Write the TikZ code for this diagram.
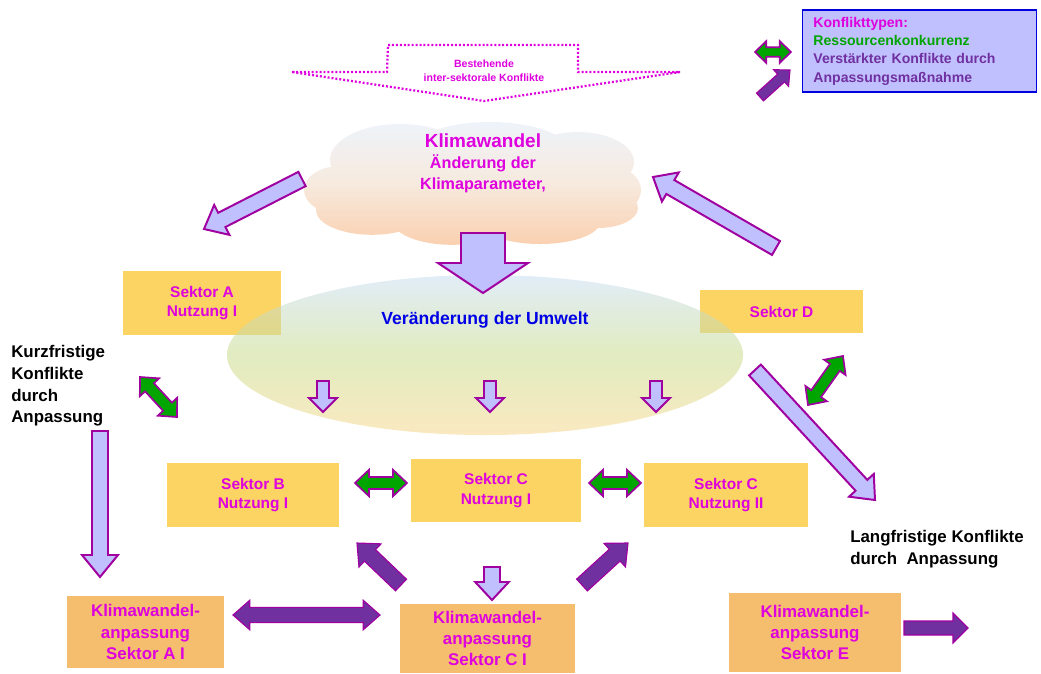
\documentclass[tikz,border=0pt]{standalone}
\usepackage{fontspec}
\setmainfont{Liberation Sans}
\usepackage{tikz}
\usetikzlibrary{positioning, calc, shapes.geometric}
\definecolor{lav}{RGB}{192,192,255}
\definecolor{rand}{RGB}{160,0,160}
\definecolor{gruen}{RGB}{0,165,0}
\definecolor{lila}{RGB}{112,48,160}
\definecolor{mag}{RGB}{222,0,222}
\definecolor{gelb}{RGB}{252,212,100}
\definecolor{orangebox}{RGB}{245,190,110}
\definecolor{legblau}{RGB}{0,0,220}
\definecolor{umweltblau}{RGB}{0,0,230}
\definecolor{wolkeo}{RGB}{238,243,250}
\definecolor{wolkem}{RGB}{247,234,222}
\definecolor{wolkeu}{RGB}{250,208,176}
\definecolor{ellio}{RGB}{200,222,242}
\definecolor{ellim}{RGB}{200,220,140}
\definecolor{elliu}{RGB}{246,214,140}

% block arrow: style, tail, tip, half shaft, half head, head length
\newcommand{\fatarrow}[6][]{%
  \coordinate (fa-h) at ($(#3)!#6!(#2)$);
  \draw[#1] ($(#2)!#4!90:(#3)$) -- ($(fa-h)!#4!-90:(#2)$) -- ($(fa-h)!#5!-90:(#2)$)
    -- (#3) -- ($(fa-h)!#5!90:(#2)$) -- ($(fa-h)!#4!90:(#2)$) -- ($(#2)!#4!-90:(#3)$) -- cycle;
}
% double block arrow
\newcommand{\fatdarrow}[6][]{%
  \coordinate (fa-a) at ($(#2)!#6!(#3)$);
  \coordinate (fa-b) at ($(#3)!#6!(#2)$);
  \draw[#1] (#2) -- ($(fa-a)!#5!90:(#3)$) -- ($(fa-a)!#4!90:(#3)$) -- ($(fa-b)!#4!-90:(#2)$)
    -- ($(fa-b)!#5!-90:(#2)$) -- (#3) -- ($(fa-b)!#5!90:(#2)$) -- ($(fa-b)!#4!90:(#2)$)
    -- ($(fa-a)!#4!-90:(#3)$) -- ($(fa-a)!#5!-90:(#3)$) -- cycle;
}

\begin{document}
\begin{tikzpicture}[x=0.025cm, y=-0.025cm, font=\bfseries,
    sektor/.style={fill=gelb, text=mag, align=center, inner sep=0pt,
                   font=\fontsize{11}{14}\selectfont\bfseries},
    anpassung/.style={fill=orangebox, text=mag, align=center, inner sep=0pt,
                   font=\fontsize{12}{15}\selectfont\bfseries},
    lavpfeil/.style={fill=lav, draw=rand, line width=1.4pt},
    gruenpfeil/.style={fill=gruen, draw=rand, line width=1.2pt},
    lilapfeil/.style={fill=lila, draw=rand, line width=0.8pt},
    hinweis/.style={align=left, inner sep=0pt, font=\fontsize{12}{15.5}\selectfont\bfseries}]
  \useasboundingbox (0,0) rectangle (1041,673);

  % Klimawandel (Wolke)
  \shade[top color=wolkeo, bottom color=wolkeu, middle color=wolkem]
    (400,160) ellipse [x radius=1.75cm, y radius=0.9cm]
    (490,152) ellipse [x radius=2cm, y radius=0.75cm]
    (578,162) ellipse [x radius=1.4cm, y radius=0.75cm]
    (340,190) ellipse [x radius=0.9cm, y radius=0.6cm]
    (615,190) ellipse [x radius=0.65cm, y radius=0.55cm]
    (372,210) ellipse [x radius=1.4cm, y radius=0.62cm]
    (452,220) ellipse [x radius=1.5cm, y radius=0.62cm]
    (540,222) ellipse [x radius=1.5cm, y radius=0.55cm]
    (598,208) ellipse [x radius=1cm, y radius=0.5cm]
    (475,190) ellipse [x radius=3.8cm, y radius=1.1cm];
  \node[text=mag, align=center, font=\fontsize{11.5}{15}\selectfont\bfseries] (klima) at (483,163)
        {{\fontsize{13.5}{17}\selectfont Klimawandel}\\Änderung der\\Klimaparameter,};

  % bestehende Konflikte
  \draw[dash pattern=on 1.4pt off 1.4pt, line width=1.6pt, mag] (292,72) -- (387,72) -- (388,45)
        -- (578,45) -- (578,72) -- (680,72) -- (484,101) -- cycle;
  \node[text=mag, align=center, font=\fontsize{7.5}{10}\selectfont\bfseries] (bestehend) at (484,71)
        {Bestehende\\inter-sektorale Konflikte};

  % Legende
  \node[draw=legblau, fill=lav, line width=1pt, text width=5.3cm, align=left,
        inner xsep=0.28cm, minimum height=2.05cm, font=\fontsize{10}{13}\selectfont\bfseries]
        (legende) at (919.5,51)
        {\textcolor{mag}{Konflikttypen:}\\\textcolor{gruen}{Ressourcenkonkurrenz}\\
         \textcolor{lila}{Verstärkter Konflikte durch}\\\textcolor{lila}{Anpassungsmaßnahme}};

  % Sektoren
  \node[sektor, minimum width=3.95cm, minimum height=1.6cm] (sa) at (202,303) {Sektor A\\Nutzung I};
  \node[sektor, minimum width=4.075cm, minimum height=1.075cm] (sd) at (781.5,311.5) {Sektor D};
  \node[sektor, minimum width=4.3cm, minimum height=1.6cm] (sb) at (253,495) {Sektor B\\Nutzung I};
  \node[sektor, minimum width=4.25cm, minimum height=1.575cm] (sc1) at (496,490.5) {Sektor C\\Nutzung I};
  \node[sektor, minimum width=4.1cm, minimum height=1.6cm] (sc2) at (726,495) {Sektor C\\Nutzung II};

  % Anpassung
  \node[anpassung, minimum width=3.925cm, minimum height=1.8cm] (ka) at (145.5,632)
        {Klimawandel-\\anpassung\\Sektor A I};
  \node[anpassung, minimum width=4.375cm, minimum height=1.725cm] (kc) at (487.5,638.5)
        {Klimawandel-\\anpassung\\Sektor C I};
  \node[anpassung, minimum width=4.3cm, minimum height=1.975cm] (ke) at (815,632.5)
        {Klimawandel-\\anpassung\\Sektor E};

  % Umwelt
  \node[ellipse, minimum width=12.9cm, minimum height=4cm, fill opacity=0.55,
        top color=ellio, bottom color=elliu, middle color=ellim] (umwelt) at (485,355) {};
  \node[text=umweltblau, font=\fontsize{12.5}{15}\selectfont\bfseries] (umwelttext) at (485,320)
        {Veränderung der Umwelt};

  % Texte
  \node[hinweis, anchor=north west] (kurz) at (11,345) {Kurzfristige\\Konflikte\\durch\\Anpassung};
  \node[hinweis, anchor=north west] (lang) at (850,530) {Langfristige Konflikte\\durch~ Anpassung};

  % Pfeile
  \foreach \n/\x/\y in {wl-a/302/179, wl-b/204/229, wr-a/776/248, wr-b/653/177,
      wu-a/483/233, wu-b/483/293, u1-a/323/381, u1-b/323/412, u2-a/490/381, u2-b/490/412,
      u3-a/656/381, u3-b/656/412, kz-a/100/431, kz-b/100/577, lf-a/755/370, lf-b/875/500,
      cu-a/492/567, cu-b/492/600, pl-a/401/585, pl-b/357/543, pr-a/582/585, pr-b/628/543,
      pd-a/233/615, pd-b/380/615, pe-a/904/628, pe-b/968/628, lg-a/760/97, lg-b/790/70,
      g1-a/140/377, g1-b/177/417, g2-a/355/483, g2-b/407/483, g3-a/589/483, g3-b/641/483,
      g4-a/808/405, g4-b/843/356, gl-a/755/52, gl-b/791/52}
    \coordinate (\n) at (\x,\y);

  \fatarrow[lavpfeil]{wl-a}{wl-b}{0.2cm}{0.42cm}{0.5cm}
  \fatarrow[lavpfeil]{wr-a}{wr-b}{0.2cm}{0.42cm}{0.5cm}
  \fatarrow[lavpfeil]{wu-a}{wu-b}{0.55cm}{1.125cm}{0.75cm}
  \fatarrow[lavpfeil]{u1-a}{u1-b}{0.15cm}{0.35cm}{0.35cm}
  \fatarrow[lavpfeil]{u2-a}{u2-b}{0.15cm}{0.35cm}{0.35cm}
  \fatarrow[lavpfeil]{u3-a}{u3-b}{0.15cm}{0.35cm}{0.35cm}
  \fatarrow[lavpfeil]{kz-a}{kz-b}{0.2cm}{0.45cm}{0.55cm}
  \fatarrow[lavpfeil]{lf-a}{lf-b}{0.2cm}{0.42cm}{0.5cm}
  \fatarrow[lavpfeil]{cu-a}{cu-b}{0.2cm}{0.42cm}{0.45cm}

  \fatarrow[lilapfeil]{pl-a}{pl-b}{0.2cm}{0.4cm}{0.45cm}
  \fatarrow[lilapfeil]{pr-a}{pr-b}{0.2cm}{0.4cm}{0.45cm}
  \fatdarrow[lilapfeil]{pd-a}{pd-b}{0.19cm}{0.37cm}{0.42cm}
  \fatarrow[lilapfeil]{pe-a}{pe-b}{0.175cm}{0.375cm}{0.375cm}
  \fatarrow[lilapfeil]{lg-a}{lg-b}{0.13cm}{0.28cm}{0.3cm}

  \fatdarrow[gruenpfeil]{g1-a}{g1-b}{0.15cm}{0.33cm}{0.35cm}
  \fatdarrow[gruenpfeil]{g2-a}{g2-b}{0.15cm}{0.33cm}{0.35cm}
  \fatdarrow[gruenpfeil]{g3-a}{g3-b}{0.15cm}{0.33cm}{0.35cm}
  \fatdarrow[gruenpfeil]{g4-a}{g4-b}{0.15cm}{0.33cm}{0.35cm}
  \fatdarrow[gruenpfeil]{gl-a}{gl-b}{0.12cm}{0.27cm}{0.28cm}
\end{tikzpicture}
\end{document}
